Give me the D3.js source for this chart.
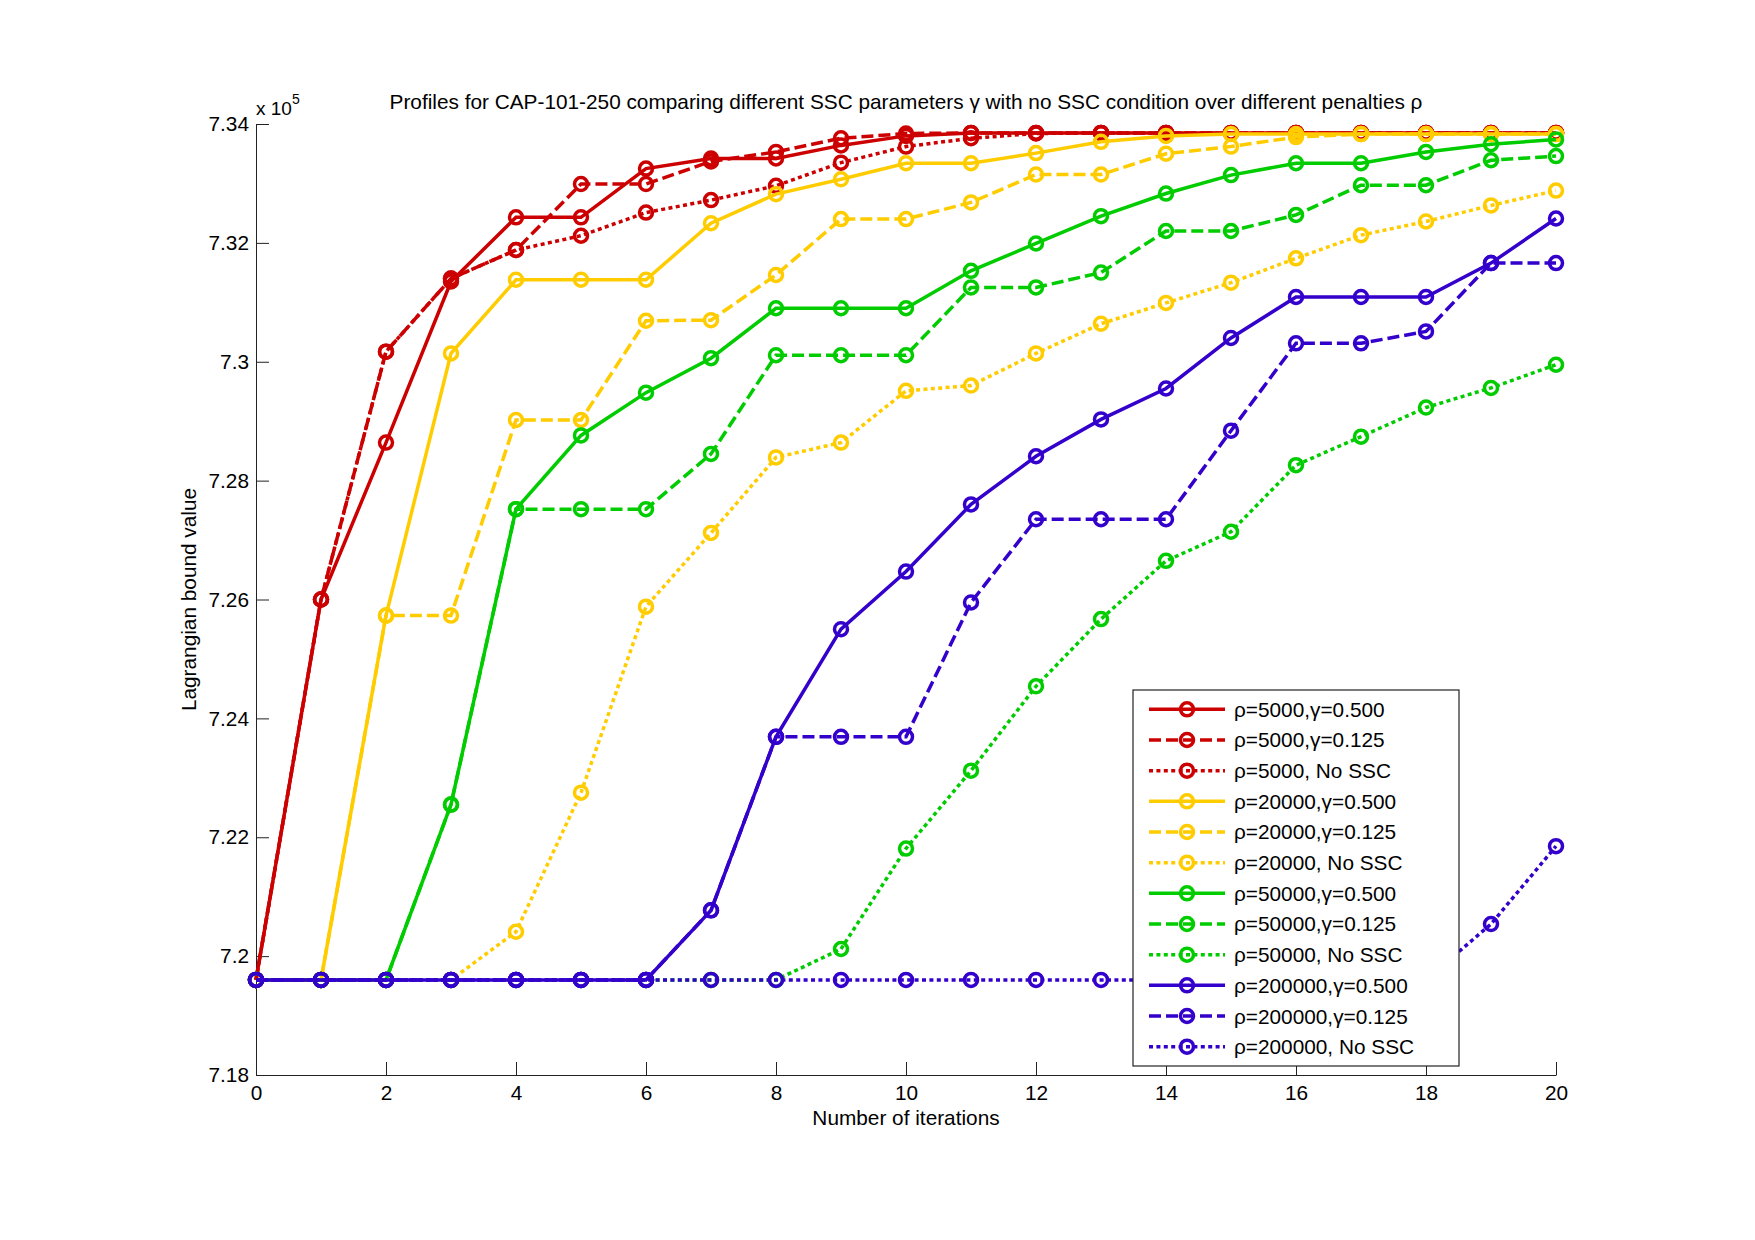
<!DOCTYPE html>
<html>
<head>
<meta charset="utf-8">
<script src="https://cdn.jsdelivr.net/npm/d3@7"></script>
<style>
  body { margin: 0; background: #fff; }
  text { font-family: "Liberation Sans", Arial, Helvetica, sans-serif; fill: #000; }
</style>
</head>
<body>
<svg id="chart"></svg>
<script>
// Data (values in units of 10^5)
const iterations = [0, 1, 2, 3, 4, 5, 6, 7, 8, 9, 10, 11, 12, 13, 14, 15, 16, 17, 18, 19, 20];
const yTicks = [7.18, 7.2, 7.22, 7.24, 7.26, 7.28, 7.3, 7.32, 7.34];
const xTicks = [0, 2, 4, 6, 8, 10, 12, 14, 16, 18, 20];

const labels = [
  'ρ=5000,γ=0.500', 'ρ=5000,γ=0.125', 'ρ=5000, No SSC',
  'ρ=20000,γ=0.500', 'ρ=20000,γ=0.125', 'ρ=20000, No SSC',
  'ρ=50000,γ=0.500', 'ρ=50000,γ=0.125', 'ρ=50000, No SSC',
  'ρ=200000,γ=0.500', 'ρ=200000,γ=0.125', 'ρ=200000, No SSC'
];

const rho5000_g500 = [7.196, 7.260, 7.2864, 7.3135, 7.3243, 7.3243, 7.3325, 7.3342, 7.3342, 7.3364, 7.3380, 7.3385, 7.3385, 7.3385, 7.3385, 7.3385, 7.3385, 7.3385, 7.3385, 7.3385, 7.3385];
const rho5000_g125 = [7.196, 7.260, 7.3017, 7.3140, 7.3188, 7.3299, 7.3299, 7.3337, 7.3353, 7.3376, 7.3384, 7.3385, 7.3385, 7.3385, 7.3385, 7.3385, 7.3385, 7.3385, 7.3385, 7.3385, 7.3385];
const rho5000_noSSC = [7.196, 7.260, 7.3017, 7.3140, 7.3188, 7.3212, 7.3251, 7.3272, 7.3296, 7.3335, 7.3362, 7.3376, 7.3384, 7.3385, 7.3385, 7.3385, 7.3385, 7.3385, 7.3385, 7.3385, 7.3385];

const rho20000_g500 = [7.196, 7.196, 7.2573, 7.3014, 7.3138, 7.3138, 7.3138, 7.3233, 7.3282, 7.3307, 7.3334, 7.3334, 7.3351, 7.3370, 7.3380, 7.3383, 7.3383, 7.3383, 7.3383, 7.3383, 7.3383];
const rho20000_g125 = [7.196, 7.196, 7.2573, 7.2573, 7.2902, 7.2902, 7.3069, 7.3070, 7.3146, 7.3240, 7.3240, 7.3268, 7.3315, 7.3315, 7.3350, 7.3362, 7.3378, 7.3383, 7.3383, 7.3383, 7.3383];
const rho20000_noSSC = [7.196, 7.196, 7.196, 7.196, 7.2041, 7.2275, 7.2588, 7.2712, 7.2839, 7.2864, 7.2951, 7.2960, 7.3014, 7.3064, 7.3099, 7.3133, 7.3174, 7.3213, 7.3236, 7.3263, 7.3288];

const rho50000_g500 = [7.196, 7.196, 7.196, 7.2255, 7.2752, 7.2876, 7.2948, 7.3006, 7.3090, 7.3090, 7.3090, 7.3153, 7.3199, 7.3245, 7.3283, 7.3314, 7.3334, 7.3334, 7.3353, 7.3366, 7.3374];
const rho50000_g125 = [7.196, 7.196, 7.196, 7.2255, 7.2752, 7.2752, 7.2752, 7.2845, 7.3011, 7.3011, 7.3011, 7.3125, 7.3125, 7.3150, 7.3220, 7.3220, 7.3247, 7.3297, 7.3297, 7.3339, 7.3346];
const rho50000_noSSC = [7.196, 7.196, 7.196, 7.196, 7.196, 7.196, 7.196, 7.196, 7.196, 7.2012, 7.2181, 7.2312, 7.2454, 7.2567, 7.2665, 7.2714, 7.2826, 7.2874, 7.2923, 7.2956, 7.2995];

const rho200000_g500 = [7.196, 7.196, 7.196, 7.196, 7.196, 7.196, 7.196, 7.2077, 7.2369, 7.2550, 7.2647, 7.2760, 7.2841, 7.2903, 7.2955, 7.3040, 7.3109, 7.3109, 7.3109, 7.3166, 7.3241];
const rho200000_g125 = [7.196, 7.196, 7.196, 7.196, 7.196, 7.196, 7.196, 7.2077, 7.2369, 7.2369, 7.2369, 7.2595, 7.2735, 7.2735, 7.2735, 7.2884, 7.3031, 7.3031, 7.3051, 7.3166, 7.3166];
const rho200000_noSSC = [7.196, 7.196, 7.196, 7.196, 7.196, 7.196, 7.196, 7.196, 7.196, 7.196, 7.196, 7.196, 7.196, 7.196, 7.196, 7.196, 7.196, 7.196, 7.196, 7.2054, 7.2185];

const seriesValues = [
  rho5000_g500, rho5000_g125, rho5000_noSSC,
  rho20000_g500, rho20000_g125, rho20000_noSSC,
  rho50000_g500, rho50000_g125, rho50000_noSSC,
  rho200000_g500, rho200000_g125, rho200000_noSSC
];

// Styles
const colors = ['#cc0000', '#ffcc00', '#00cc00', '#3300cc'];
const dashes = [null, '12,5', '4,3.4'];
const lineWidth = 3.5;
const fontSize = 20.8;

const width = 1755, height = 1240;
const marginTop = 124, marginRight = 199, marginBottom = 165, marginLeft = 256;

const series = seriesValues.map((values, k) => ({
  label: labels[k],
  color: colors[Math.floor(k / 3)],
  dash: dashes[k % 3],
  values
}));

const xScale = d3.scaleLinear([0, 20], [marginLeft, width - marginRight]);
const yScale = d3.scaleLinear([7.18, 7.34], [height - marginBottom, marginTop]);

const svg = d3.select('#chart')
  .attr('width', width)
  .attr('height', height)
  .attr('viewBox', [0, 0, width, height]);

svg.append('rect').attr('width', width).attr('height', height).attr('fill', '#fff');

// Axes (MATLAB style, ticks inside, no box)
const xAxis = d3.axisBottom(xScale).tickValues(xTicks).tickSize(-13).tickPadding(10).tickSizeOuter(0);
const yAxis = d3.axisLeft(yScale).tickValues(yTicks).tickSize(-13).tickPadding(7).tickSizeOuter(0)
  .tickFormat(d => String(+d.toFixed(2)));

svg.append('g')
  .attr('transform', `translate(0,${height - marginBottom})`)
  .call(xAxis)
  .call(g => g.selectAll('text').attr('font-size', fontSize).attr('font-family', null))
  .call(g => g.selectAll('line, path').attr('stroke', '#222'));

svg.append('g')
  .attr('transform', `translate(${marginLeft},0)`)
  .call(yAxis)
  .call(g => g.selectAll('text').attr('font-size', fontSize).attr('font-family', null))
  .call(g => g.selectAll('line, path').attr('stroke', '#222'));

// Exponent label
const expo = svg.append('text')
  .attr('x', marginLeft)
  .attr('y', 115)
  .attr('font-size', 19);
expo.append('tspan').text('x 10');
expo.append('tspan').attr('font-size', 14).attr('dy', -11).text('5');

// Title and axis labels
svg.append('text')
  .attr('x', (marginLeft + width - marginRight) / 2)
  .attr('y', 109)
  .attr('text-anchor', 'middle')
  .attr('font-size', fontSize)
  .text('Profiles for CAP-101-250 comparing different SSC parameters γ with no SSC condition over different penalties ρ');

svg.append('text')
  .attr('x', (marginLeft + width - marginRight) / 2)
  .attr('y', 1125)
  .attr('text-anchor', 'middle')
  .attr('font-size', fontSize)
  .text('Number of iterations');

svg.append('text')
  .attr('transform', `translate(196,${(marginTop + height - marginBottom) / 2}) rotate(-90)`)
  .attr('text-anchor', 'middle')
  .attr('font-size', fontSize)
  .text('Lagrangian bound value');

// Lines and markers
const line = d3.line()
  .x((d, i) => xScale(iterations[i]))
  .y(d => yScale(d));

const groups = svg.append('g')
  .selectAll('g')
  .data(series)
  .join('g');

groups.append('path')
  .attr('fill', 'none')
  .attr('stroke', d => d.color)
  .attr('stroke-width', lineWidth)
  .attr('stroke-dasharray', d => d.dash)
  .attr('d', d => line(d.values));

groups.selectAll('circle')
  .data(d => d.values.map((v, i) => ({ v, i, color: d.color })))
  .join('circle')
  .attr('cx', d => xScale(iterations[d.i]))
  .attr('cy', d => yScale(d.v))
  .attr('r', 6.5)
  .attr('fill', 'none')
  .attr('stroke', d => d.color)
  .attr('stroke-width', lineWidth);

// Legend
const legend = svg.append('g').attr('transform', 'translate(1133,690)');
legend.append('rect')
  .attr('width', 326)
  .attr('height', 376)
  .attr('fill', '#fff')
  .attr('stroke', '#222')
  .attr('stroke-width', 1.2);

const rows = legend.selectAll('g.row')
  .data(series)
  .join('g')
  .attr('class', 'row')
  .attr('transform', (d, i) => `translate(0,${19.3 + i * 30.67})`);

rows.append('line')
  .attr('x1', 16).attr('x2', 92)
  .attr('stroke', d => d.color)
  .attr('stroke-width', lineWidth)
  .attr('stroke-dasharray', d => d.dash);

rows.append('circle')
  .attr('cx', 54)
  .attr('r', 6.5)
  .attr('fill', 'none')
  .attr('stroke', d => d.color)
  .attr('stroke-width', lineWidth);

rows.append('text')
  .attr('x', 101)
  .attr('y', 7.5)
  .attr('font-size', fontSize)
  .text(d => d.label);
</script>
</body>
</html>
